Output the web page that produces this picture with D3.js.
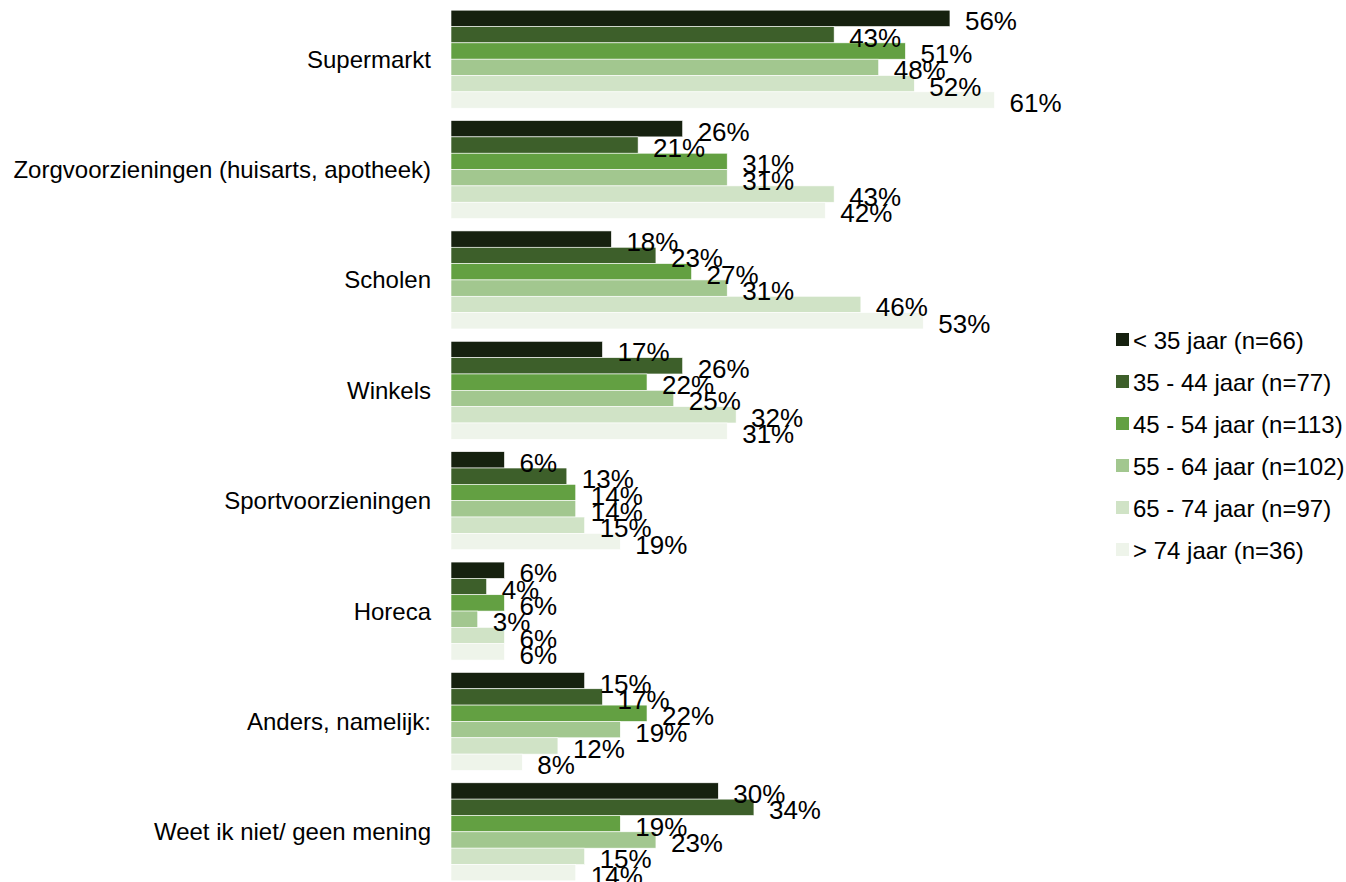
<!DOCTYPE html>
<html><head><meta charset="utf-8">
<script src="https://cdn.jsdelivr.net/npm/d3@7"></script>
<style>body{margin:0;background:#fff;} svg{display:block;font-family:"Liberation Sans",Arial,sans-serif;}</style>
</head><body>
<svg id="c" width="1346" height="882"></svg>
<script>
const categories = ["Supermarkt","Zorgvoorzieningen (huisarts, apotheek)","Scholen","Winkels","Sportvoorzieningen","Horeca","Anders, namelijk:","Weet ik niet/ geen mening"];
const seriesNames = ["< 35 jaar (n=66)","35 - 44 jaar (n=77)","45 - 54 jaar (n=113)","55 - 64 jaar (n=102)","65 - 74 jaar (n=97)","> 74 jaar (n=36)"];
const colors = ["#16210f","#3d5f2a","#63a042","#a2c78f","#d0e3c6","#eef4ea"];
const s1 = [56,26,18,17,6,6,15,30];
const s2 = [43,21,23,26,13,4,17,34];
const s3 = [51,31,27,22,14,6,22,19];
const s4 = [48,31,31,25,14,3,19,23];
const s5 = [52,43,46,32,15,6,12,15];
const s6 = [61,42,53,31,19,6,8,14];
const seriesValues = [s1,s2,s3,s4,s5,s6];

const svg = d3.select("#c");
const x = d3.scaleLinear().domain([0,100]).range([451,1342]);
const y = d3.scaleBand().domain(categories).range([4,887]).paddingInner(0.112).paddingOuter(0.056);
const ys = d3.scaleBand().domain(d3.range(6)).range([0,y.bandwidth()]);

const g = svg.append("g");
categories.forEach((c,ci)=>{
  const grp = g.append("g").attr("transform",`translate(0,${y(c)})`);
  seriesValues.forEach((vals,si)=>{
    grp.append("rect").attr("x",x(0)).attr("y",ys(si)).attr("width",x(vals[ci])-x(0)).attr("height",ys.bandwidth())
      .attr("fill",colors[si]).attr("stroke","#ffffff").attr("stroke-width",0.6);
  });
  seriesValues.forEach((vals,si)=>{
    grp.append("text").attr("x",x(vals[ci])+15).attr("y",ys(si)+ys.bandwidth()/2+3)
      .attr("dominant-baseline","central").attr("font-size",26).attr("fill","#000").text(vals[ci]+"%");
  });
  svg.append("text").attr("x",431).attr("y",y(c)+y.bandwidth()/2).attr("text-anchor","end")
    .attr("dominant-baseline","central").attr("font-size",24).attr("fill","#000").text(c);
});

const leg = svg.append("g");
seriesNames.forEach((n,i)=>{
  const cy = 340 + i*42;
  leg.append("rect").attr("x",1116).attr("y",cy-7).attr("width",13).attr("height",13).attr("fill",colors[i]);
  leg.append("text").attr("x",1133).attr("y",cy).attr("dominant-baseline","central").attr("font-size",24).attr("fill","#000").text(n);
});
</script>
</body></html>
